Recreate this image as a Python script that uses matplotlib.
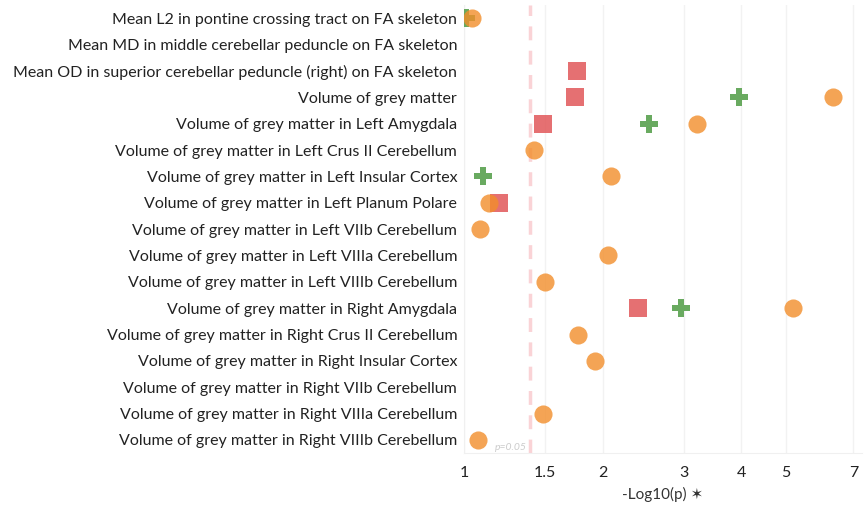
import matplotlib.pyplot as plt
from matplotlib.ticker import FixedLocator, NullLocator
import numpy as np

plt.rcParams["font.family"] = ["Lato", "DejaVu Sans"]

# -log10(p) per measure, three series (nan = not shown)
labels = [
    "Mean L2 in pontine crossing tract on FA skeleton",
    "Mean MD in middle cerebellar peduncle on FA skeleton",
    "Mean OD in superior cerebellar peduncle (right) on FA skeleton",
    "Volume of grey matter",
    "Volume of grey matter in Left Amygdala",
    "Volume of grey matter in Left Crus II Cerebellum",
    "Volume of grey matter in Left Insular Cortex",
    "Volume of grey matter in Left Planum Polare",
    "Volume of grey matter in Left VIIb Cerebellum",
    "Volume of grey matter in Left VIIIa Cerebellum",
    "Volume of grey matter in Left VIIIb Cerebellum",
    "Volume of grey matter in Right Amygdala",
    "Volume of grey matter in Right Crus II Cerebellum",
    "Volume of grey matter in Right Insular Cortex",
    "Volume of grey matter in Right VIIb Cerebellum",
    "Volume of grey matter in Right VIIIa Cerebellum",
    "Volume of grey matter in Right VIIIb Cerebellum",
]
nan = np.nan
orange_vals = [1.04, nan, nan, 6.31, 3.20, 1.42, 2.08, 1.13, 1.08, 2.05,
               1.50, 5.17, 1.77, 1.92, nan, 1.48, 1.07]
red_vals = [nan, nan, 1.76, 1.74, 1.48, nan, nan, 1.19, nan, nan,
            nan, 2.39, nan, nan, nan, nan, nan]
green_vals = [1.01, nan, nan, 3.96, 2.52, nan, 1.10, nan, nan, nan,
              nan, 2.96, nan, nan, nan, nan, nan]
xticks = [1, 1.5, 2, 3, 4, 5, 7]
threshold = 1.39  # drawn p=0.05 reference line

fig = plt.figure(figsize=(8.66, 5.08), dpi=100)
ax = fig.add_axes([0.536, 0.108, 0.459, 0.882])
y = np.arange(len(labels))

ax.scatter(green_vals, y, marker="P", s=150, color="#59A14F", alpha=0.9,
           linewidths=0, zorder=3)
ax.scatter(red_vals, y, marker="s", s=150, color="#E15759", alpha=0.85,
           linewidths=0, zorder=4)
ax.scatter(orange_vals, y, marker="o", s=170, color="#F28E2B", alpha=0.8,
           linewidths=0, zorder=5)

ax.axvline(threshold, color="#FAD3D6", lw=2.5, ls=(0, (4, 3)), zorder=2)
ax.text(threshold - 0.02, 16.3, "p=0.05", ha="right", va="center",
        fontsize=7.5, style="italic", color="#cccccc")

ax.set_xscale("log")
ax.set_xlim(1, 7.3)
ax.xaxis.set_major_locator(FixedLocator(xticks))
ax.xaxis.set_minor_locator(NullLocator())
ax.set_xticklabels([str(t) for t in xticks])
ax.set_ylim(len(labels) - 0.5, -0.5)
ax.set_yticks(y)
ax.set_yticklabels(labels)
ax.tick_params(axis="both", length=0, labelsize=11.5, colors="#222222")
ax.tick_params(axis="x", pad=9)
ax.tick_params(axis="y", pad=5)
ax.grid(axis="x", color="#f2f2f2", lw=1)
ax.set_axisbelow(True)
for s in ["top", "right"]:
    ax.spines[s].set_visible(False)
for s in ["left", "bottom"]:
    ax.spines[s].set_color("#f0f0f0")

ax.set_xlabel("-Log10(p) \u2736", fontsize=11, color="#333333", labelpad=5)

fig.savefig("out.png", dpi=100)
